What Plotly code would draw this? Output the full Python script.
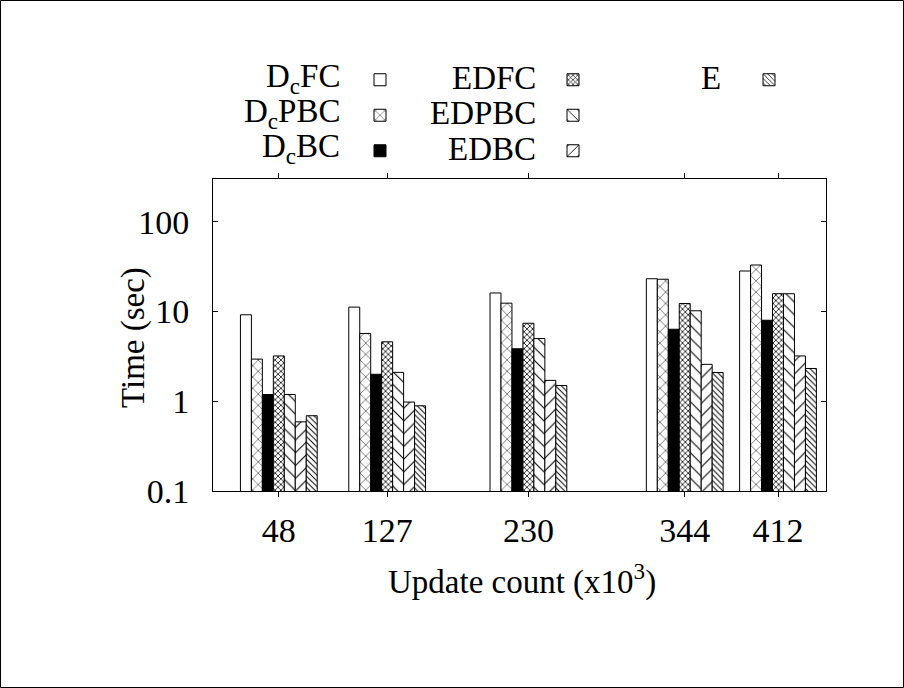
import plotly.graph_objects as go

# ---- data ----
update_counts = [48, 127, 230, 344, 412]
series_names = ["D<sub>c</sub>FC", "D<sub>c</sub>PBC", "D<sub>c</sub>BC",
                "EDFC", "EDPBC", "EDBC", "E"]
dcfc = [9.2, 11.2, 16.1, 23.2, 28.3]
dcpbc = [2.95, 5.7, 12.4, 22.9, 33.0]
dcbc = [1.19, 2.0, 3.85, 6.35, 8.0]
edfc = [3.2, 4.6, 7.4, 12.3, 15.8]
edpbc = [1.19, 2.1, 5.0, 10.2, 15.8]
edbc = [0.59, 0.98, 1.71, 2.58, 3.2]
e_vals = [0.69, 0.89, 1.50, 2.09, 2.32]
series_values = [dcfc, dcpbc, dcbc, edfc, edpbc, edbc, e_vals]
y_tick_vals = [0.1, 1, 10, 100]
y_tick_text = ["0.1", "1", "10", "100"]

# ---- styles ----
FONT = "Liberation Serif, Times New Roman, serif"
W, H = 904, 688
ML, MR, MT, MB = 213, 78, 179, 197
PW, PH = W - ML - MR, H - MT - MB

patterns = [
    dict(marker_color="white", pattern=dict(shape="")),
    dict(marker_color="white", pattern=dict(shape="x", size=8, solidity=0.12,
                                           fgcolor="black", bgcolor="white", fillmode="replace")),
    dict(marker_color="black", pattern=dict(shape="")),
    dict(marker_color="white", pattern=dict(shape="x", size=4, solidity=0.35,
                                           fgcolor="black", bgcolor="white", fillmode="replace")),
    dict(marker_color="white", pattern=dict(shape="\\", size=9, solidity=0.12,
                                           fgcolor="black", bgcolor="white", fillmode="replace")),
    dict(marker_color="white", pattern=dict(shape="/", size=9, solidity=0.12,
                                           fgcolor="black", bgcolor="white", fillmode="replace")),
    dict(marker_color="white", pattern=dict(shape="\\", size=4, solidity=0.25,
                                           fgcolor="black", bgcolor="white", fillmode="replace")),
]
legend_of = ["legend", "legend", "legend", "legend2", "legend2", "legend2", "legend3"]

bar_w = 8.0
n = len(series_values)
fig = go.Figure()
for i, (name, vals, pat) in enumerate(zip(series_names, series_values, patterns)):
    fig.add_trace(go.Bar(
        x=update_counts, y=vals, name=" ",
        width=bar_w, offset=-bar_w * n / 2 + bar_w * i,
        marker=dict(color=pat["marker_color"], pattern=pat["pattern"],
                    line=dict(color="black", width=1)),
        legend=legend_of[i],
        hovertemplate=name.replace("<sub>", "").replace("</sub>", "") + ": %{y}<extra></extra>",
    ))


def px_x(p):
    return (p - ML) / PW


def px_y(p):
    return (H - MB - p) / PH


leg_common = dict(font=dict(family=FONT, size=25, color="black"), bgcolor="rgba(0,0,0,0)",
                  tracegroupgap=0, itemwidth=30, xanchor="left", yanchor="top",
                  orientation="v", traceorder="normal")
annotations = []
col_label_right = [342, 538, 723]
col_swatch_center = [380, 573, 769]
row_centers = [78, 113, 149]
for i, name in enumerate(series_names):
    col = 0 if i < 3 else (1 if i < 6 else 2)
    row = i if i < 3 else (i - 3 if i < 6 else 0)
    annotations.append(dict(text=name, x=px_x(col_label_right[col]), y=px_y(row_centers[row]),
                            xref="paper", yref="paper", xanchor="right", yanchor="middle",
                            showarrow=False, font=dict(family=FONT, size=33, color="black")))

annotations.append(dict(text="Time (sec)", textangle=-90, x=px_x(133), y=px_y(338),
                        xref="paper", yref="paper", xanchor="center", yanchor="middle",
                        showarrow=False, font=dict(family=FONT, size=33, color="black")))
annotations.append(dict(text="Update count (x10<sup>3</sup>)", x=px_x(522), y=px_y(579),
                        xref="paper", yref="paper", xanchor="center", yanchor="middle",
                        showarrow=False, font=dict(family=FONT, size=33, color="black")))

legends = {}
for k, key in enumerate(["legend", "legend2", "legend3"]):
    legends[key] = dict(leg_common, x=px_x(col_swatch_center[k] - 20), y=px_y(row_centers[0] - 21))

fig.update_layout(
    width=W, height=H,
    margin=dict(l=ML, r=MR, t=MT, b=MB, autoexpand=False),
    paper_bgcolor="white", plot_bgcolor="white",
    barmode="overlay", showlegend=True,
    font=dict(family=FONT, size=33, color="black"),
    annotations=annotations,
    xaxis=dict(range=[0, 447], tickvals=update_counts, ticktext=[str(v) for v in update_counts],
               ticks="outside", ticklen=5, tickwidth=1, tickcolor="black",
               showline=True, linecolor="black", linewidth=1, mirror="allticks",
               showgrid=False, zeroline=False, ticklabelstandoff=4,
               tickfont=dict(family=FONT, size=34, color="black")),
    yaxis=dict(type="log", range=[-1, 2.4771], tickvals=y_tick_vals, ticktext=y_tick_text,
               ticks="inside", ticklen=5, tickwidth=1, tickcolor="black",
               showline=True, linecolor="black", linewidth=1, mirror="allticks",
               showgrid=False, zeroline=False, ticklabelstandoff=16,
               tickfont=dict(family=FONT, size=34, color="black")),
    shapes=[dict(type="rect", xref="paper", yref="paper",
                 x0=px_x(0.5), x1=px_x(W - 0.5), y0=px_y(H - 0.5), y1=px_y(0.5),
                 line=dict(color="black", width=1), fillcolor="rgba(0,0,0,0)", layer="above")],
    **legends,
)

fig.write_html("out.html")
